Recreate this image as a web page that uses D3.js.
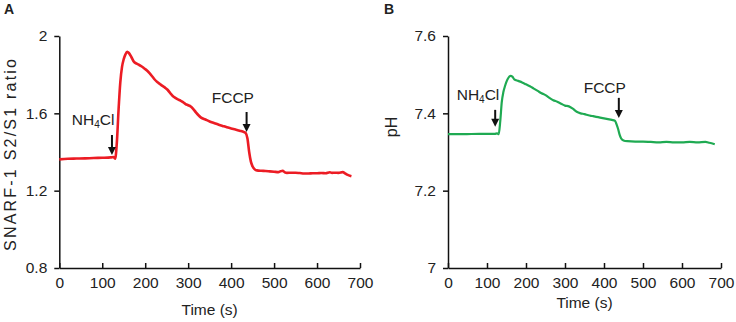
<!DOCTYPE html>
<html>
<head>
<meta charset="utf-8">
<script src="https://cdn.jsdelivr.net/npm/d3@7"></script>
<style>
  body { margin: 0; background: #fff; }
  svg text { font-family: "Liberation Sans", Arial, sans-serif; fill: #222; }
</style>
</head>
<body>
<div id="canvas"></div>
<script>
"use strict"

/* Configuration variables: drawing */
let svgWidth = 736;
let svgHeight = 322;

/* Data: panel A, SNARF-1 ratio over time */
let timeA = [0, 20, 40, 60, 80, 100, 120, 126, 130, 134, 138, 142, 146, 150, 154, 158, 162, 168, 174, 180,
    186, 192, 198, 204, 210, 216, 222, 228, 234, 240, 246, 252, 258, 264, 270, 276, 282, 288, 294, 300,
    306, 312, 318, 324, 330, 340, 350, 360, 370, 380, 390, 400, 410, 420, 430, 434, 438, 442, 446, 450,
    455, 460, 470, 480, 490, 500, 510, 515, 520, 525, 530, 540, 550, 560, 570, 580, 590, 600, 610, 620,
    630, 635, 640, 650, 660, 665, 670, 680];
let ratioA = [1.362, 1.365, 1.366, 1.367, 1.369, 1.370, 1.372, 1.374, 1.365, 1.45, 1.62, 1.76, 1.84, 1.88, 1.905, 1.918, 1.912, 1.89, 1.866, 1.857,
    1.85, 1.842, 1.832, 1.822, 1.808, 1.792, 1.775, 1.762, 1.752, 1.742, 1.733, 1.722, 1.705, 1.69, 1.68, 1.672, 1.666, 1.658, 1.648, 1.642,
    1.635, 1.622, 1.605, 1.59, 1.578, 1.568, 1.558, 1.55, 1.542, 1.535, 1.528, 1.522, 1.516, 1.51, 1.503, 1.498, 1.47, 1.40, 1.35, 1.325,
    1.31, 1.305, 1.303, 1.302, 1.30, 1.298, 1.296, 1.30, 1.303, 1.295, 1.292, 1.293, 1.293, 1.291, 1.289, 1.289, 1.29, 1.29, 1.291, 1.29,
    1.295, 1.292, 1.293, 1.292, 1.296, 1.29, 1.283, 1.275];

/* Data: panel B, pH over time */
let timeB = [0, 40, 80, 120, 126, 130, 134, 138, 142, 146, 150, 155, 160, 165, 170, 180, 190, 200, 210, 220,
    230, 240, 250, 260, 270, 280, 290, 300, 310, 320, 330, 340, 350, 360, 370, 380, 390, 400, 410, 420,
    428, 432, 436, 440, 444, 450, 460, 480, 500, 520, 540, 560, 580, 600, 620, 640, 660, 670, 684];
let phB = [7.346, 7.346, 7.347, 7.347, 7.348, 7.346, 7.38, 7.43, 7.455, 7.47, 7.482, 7.492, 7.497, 7.495, 7.488, 7.484, 7.48, 7.475, 7.47, 7.464,
    7.458, 7.452, 7.447, 7.44, 7.434, 7.43, 7.425, 7.42, 7.418, 7.412, 7.404, 7.40, 7.398, 7.395, 7.393, 7.391, 7.389, 7.387, 7.385, 7.383,
    7.381, 7.372, 7.36, 7.345, 7.335, 7.33, 7.328, 7.327, 7.327, 7.326, 7.325, 7.326, 7.325, 7.325, 7.326, 7.325, 7.326, 7.324, 7.32];

/* Axis ticks */
let timeTicks = [0, 100, 200, 300, 400, 500, 600, 700];
let ratioTicks = [0.8, 1.2, 1.6, 2];
let phTicks = [7, 7.2, 7.4, 7.6];

/* Annotations: treatment arrows [time, top value, bottom value] and labels [time, value] */
let arrowsA = [{name: "NH4Cl", t: 122.6, top: 1.488, bottom: 1.385, lt: 78.6, lv: 1.54},
               {name: "FCCP", t: 436, top: 1.607, bottom: 1.504, lt: 404, lv: 1.653}];
let arrowsB = [{name: "NH4Cl", t: 121, top: 7.409, bottom: 7.365, lt: 77, lv: 7.435},
               {name: "FCCP", t: 438, top: 7.440, bottom: 7.388, lt: 402, lv: 7.453}];

/* Create drawing canvas */
let svg = d3.select("#canvas")
    .append("svg")
    .attr("width", svgWidth)
    .attr("height", svgHeight);

function drawPanel(opts) {
    let xScale = d3.scaleLinear()
        .domain([0, 700])
        .range([opts.left, opts.right]);

    let yScale = d3.scaleLinear()
        .domain(opts.yDomain)
        .range([268, 36]);

    let g = svg.append("g");

    // x axis, ticks point inward
    let xAxis = g.append("g")
        .attr("transform", "translate(0,268)")
        .call(d3.axisBottom(xScale).tickValues(timeTicks).tickSize(-5).tickPadding(11).tickSizeOuter(0));

    // y axis, ticks point outward
    let yAxis = g.append("g")
        .attr("transform", "translate(" + opts.left + ",0)")
        .call(d3.axisLeft(yScale).tickValues(opts.yTicks).tickSize(5).tickPadding(7).tickSizeOuter(0)
            .tickFormat(d3.format("")));

    [xAxis, yAxis].forEach(function(ax) {
        ax.select(".domain").attr("stroke", "#111").attr("stroke-width", 1.5);
        ax.selectAll(".tick line").attr("stroke", "#111").attr("stroke-width", 1.5);
        ax.selectAll(".tick text")
            .attr("font-size", 15.5)
            .attr("fill", "#222")
            .attr("font-family", "Liberation Sans, Arial, sans-serif");
    });
    xAxis.selectAll(".tick text").attr("dy", "0.55em");

    // data line
    let points = opts.times.map(function(t, i) { return [t, opts.values[i]]; });
    let line = d3.line()
        .x(function(d) { return xScale(d[0]); })
        .y(function(d) { return yScale(d[1]); })
        .curve(d3.curveMonotoneX);

    g.append("path")
        .datum(points)
        .attr("fill", "none")
        .attr("stroke", opts.color)
        .attr("stroke-width", opts.lineWidth)
        .attr("stroke-linejoin", "round")
        .attr("d", line);

    // treatment arrows + labels
    opts.arrows.forEach(function(a) {
        let ax = xScale(a.t);
        let y1 = yScale(a.top);
        let y2 = yScale(a.bottom);
        g.append("line")
            .attr("x1", ax).attr("y1", y1)
            .attr("x2", ax).attr("y2", y2 - 6)
            .attr("stroke", "#111")
            .attr("stroke-width", 2);
        g.append("path")
            .attr("d", "M" + (ax - 4) + "," + (y2 - 8) + "L" + (ax + 4) + "," + (y2 - 8) + "L" + ax + "," + y2 + "Z")
            .attr("fill", "#111");

        let label = g.append("text")
            .attr("x", xScale(a.lt))
            .attr("y", yScale(a.lv))
            .attr("text-anchor", "middle")
            .attr("font-size", 15.5);
        if (a.name === "NH4Cl") {
            label.append("tspan").text("NH");
            label.append("tspan").attr("font-size", 10).attr("dy", 3).text("4");
            label.append("tspan").attr("dy", -3).text("Cl");
        } else {
            label.text(a.name);
        }
    });

    /**** label the axes ****/
    g.append("text")
        .attr("x", (opts.left + opts.right) / 2)
        .attr("y", opts.xTitleY)
        .attr("text-anchor", "middle")
        .attr("font-size", 15.5)
        .text("Time (s)");

    let yTitle = g.append("text")
        .attr("transform", "rotate(-90)")
        .attr("x", -opts.yTitleCY)
        .attr("y", opts.yTitleX)
        .attr("text-anchor", "middle")
        .attr("dominant-baseline", "middle")
        .attr("font-size", 16)
        .text(opts.yTitle);
    if (opts.yTitleLen) {
        yTitle.attr("textLength", opts.yTitleLen).attr("lengthAdjust", "spacing");
    }

    // panel letter
    g.append("text")
        .attr("x", opts.letterX)
        .attr("y", 14)
        .attr("font-size", 14)
        .attr("font-weight", "bold")
        .attr("fill", "#111")
        .text(opts.letter);
}

drawPanel({
    left: 59.3, right: 360, yDomain: [0.8, 2], yTicks: ratioTicks,
    times: timeA, values: ratioA, color: "#ec1c24", lineWidth: 2.6,
    arrows: arrowsA, xTitleY: 315, yTitle: "SNARF-1 S2/S1  ratio", yTitleX: 12, yTitleCY: 155, yTitleLen: 192,
    letter: "A", letterX: 4
});

drawPanel({
    left: 448, right: 721, yDomain: [7, 7.6], yTicks: phTicks,
    times: timeB, values: phB, color: "#1faa52", lineWidth: 2.2,
    arrows: arrowsB, xTitleY: 308, yTitle: "pH", yTitleX: 393, yTitleCY: 127,
    letter: "B", letterX: 384
});
</script>
</body>
</html>
